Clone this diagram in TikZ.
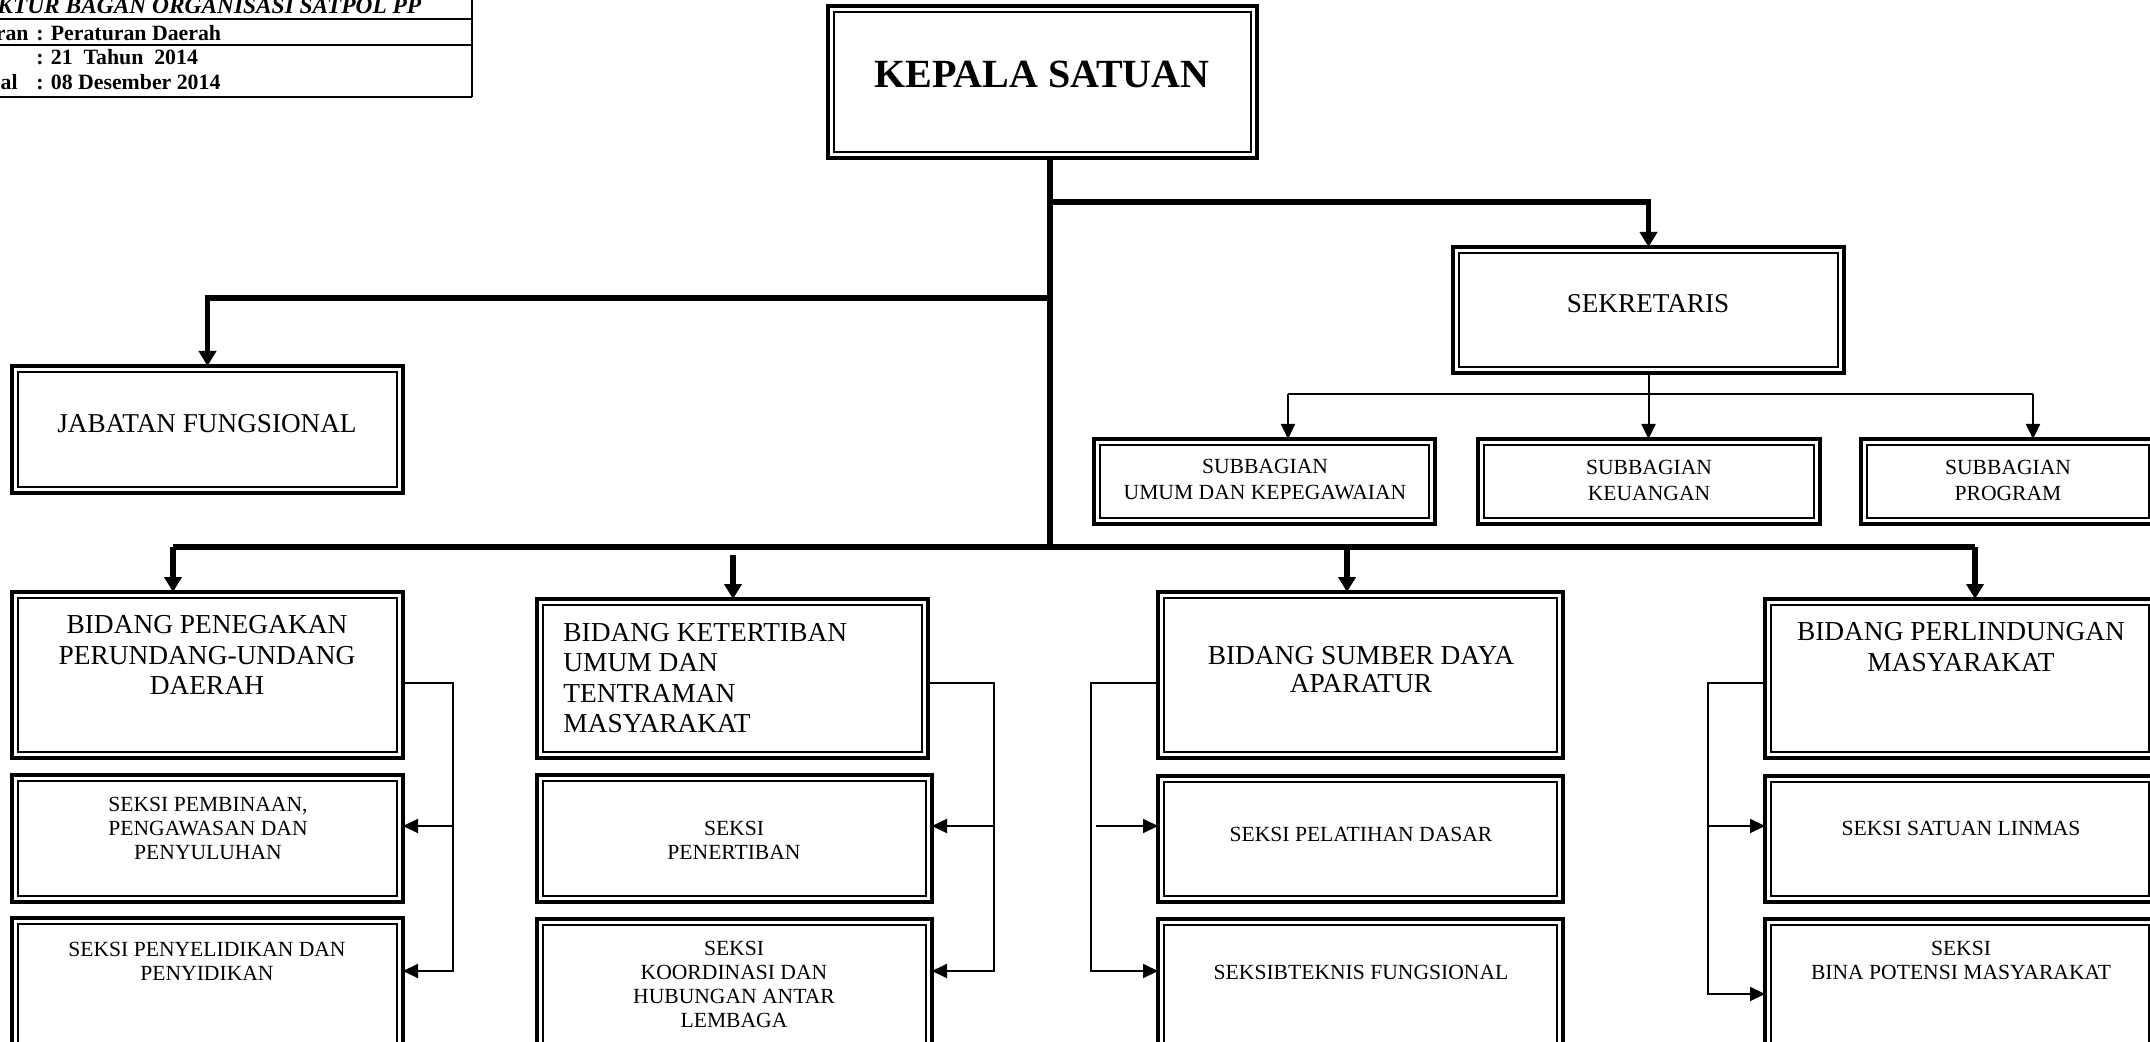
\documentclass[tikz,border=0pt]{standalone}
\usepackage{fontspec}
\setmainfont{Liberation Serif}
\usetikzlibrary{arrows.meta,calc}
\begin{document}
\begin{tikzpicture}[x=0.5pt,y=-0.5pt,
  dbox/.style={draw, line width=1.6pt, anchor=north west, inner sep=0pt, outer sep=0pt,
    path picture={\draw[line width=1.1pt]
      ([shift={(3.1pt,-3.1pt)}]path picture bounding box.north west) rectangle
      ([shift={(-3.1pt,3.1pt)}]path picture bounding box.south east);}},
  sz/.style 2 args={minimum width=#1*0.5pt, minimum height=#2*0.5pt},
  txt/.style={inner sep=0pt, align=center},
  fk/.style={font=\fontsize{20}{24}\selectfont\bfseries},
  fj/.style={font=\fontsize{13.6}{16}\selectfont},
  fb/.style={font=\fontsize{13.7}{15.2}\selectfont},
  fs/.style={font=\fontsize{10.8}{12}\selectfont},
  fsub/.style={font=\fontsize{10.8}{13}\selectfont},
  ftab/.style={font=\fontsize{10.9}{13}\selectfont\bfseries, inner sep=0pt, anchor=base west},
  ftitle/.style={font=\fontsize{11.7}{14}\selectfont\bfseries\itshape, inner sep=0pt, anchor=base west},
  thk/.style={line width=2.6pt},
  thkarrow/.style={line width=2.6pt, -{Triangle[width=8.5pt,length=7.5pt]}},
  thn/.style={line width=1pt},
  thnarrow/.style={line width=1pt, -{Triangle[width=7pt,length=7.5pt]}},
  tabline/.style={line width=1.2pt}
]
\useasboundingbox (0,0) rectangle (2150,1042);
\clip (0,0) rectangle (2150,1042);

% ---------- table (top left) ----------
\draw[tabline] (-10,19) -- (472,19);
\draw[tabline] (-10,45) -- (472,45);
\draw[tabline] (-10,97) -- (472,97);
\draw[tabline] (472,-10) -- (472,97);
\node[ftitle] (tt) at (-3,14) {KTUR BAGAN ORGANISASI SATPOL PP};
\node[ftab, anchor=base east] (t1a) at (29,41) {ran};
\node[ftab] (t1b) at (36,41) {: Peraturan Daerah};
\node[ftab] (t2b) at (36,65) {: 21\ \ Tahun\ \ 2014};
\node[ftab, anchor=base east] (t3a) at (18,90) {al};
\node[ftab] (t3b) at (36,90) {: 08 Desember 2014};

% ---------- boxes ----------
\node[dbox, sz={429}{152}] (kepala) at (828,6) {};
\node[dbox, sz={391}{127}] (jabatan) at (12,366) {};
\node[dbox, sz={391}{126}] (sekretaris) at (1453,247) {};
\node[dbox, sz={341}{85}] (sub1) at (1094,439) {};
\node[dbox, sz={342}{85}] (sub2) at (1478,439) {};
\node[dbox, sz={294}{85}] (sub3) at (1861,439) {};

\node[dbox, sz={391}{166}] (bid1) at (12,592) {};
\node[dbox, sz={391}{127}] (s11) at (12,775) {};
\node[dbox, sz={391}{150}] (s12) at (12,918) {};

\node[dbox, sz={391}{159}] (bid2) at (537,599) {};
\node[dbox, sz={395}{127}] (s21) at (537,775) {};
\node[dbox, sz={395}{150}] (s22) at (537,919) {};

\node[dbox, sz={405}{166}] (bid3) at (1158,592) {};
\node[dbox, sz={405}{126}] (s31) at (1158,776) {};
\node[dbox, sz={405}{150}] (s32) at (1158,919) {};

\node[dbox, sz={390}{159}] (bid4) at (1765,599) {};
\node[dbox, sz={390}{126}] (s41) at (1765,776) {};
\node[dbox, sz={390}{150}] (s42) at (1765,919) {};

% ---------- texts ----------
\node[txt, fk] (kepala-t) at (1042,74) {KEPALA SATUAN};
\node[txt, fj] (jabatan-t) at (207,424) {JABATAN FUNGSIONAL};
\node[txt, fj] (sekretaris-t) at (1648,304) {SEKRETARIS};
\node[txt, fsub] (sub1-t) at (1265,480) {SUBBAGIAN\\UMUM DAN KEPEGAWAIAN};
\node[txt, fsub] (sub2-t) at (1649,480) {SUBBAGIAN\\KEUANGAN};
\node[txt, fsub] (sub3-t) at (2008,480) {SUBBAGIAN\\PROGRAM};

\node[txt, fb] (bid1-t) at (207,655) {BIDANG PENEGAKAN\\PERUNDANG-UNDANG\\DAERAH};
\node[txt, fb, align=left, anchor=west] (bid2-t) at (563,678) {BIDANG KETERTIBAN\\UMUM DAN\\TENTRAMAN\\MASYARAKAT};
\node[txt, fb, font=\fontsize{13.7}{14}\selectfont] (bid3-t) at (1361,670) {BIDANG SUMBER DAYA\\APARATUR};
\node[txt, fb] (bid4-t) at (1961,647) {BIDANG PERLINDUNGAN\\MASYARAKAT};

\node[txt, fs] (s11-t) at (208,828) {SEKSI PEMBINAAN,\\PENGAWASAN DAN\\PENYULUHAN};
\node[txt, fs] (s12-t) at (207,961) {SEKSI PENYELIDIKAN DAN\\PENYIDIKAN};
\node[txt, fs] (s21-t) at (734,840) {SEKSI\\PENERTIBAN};
\node[txt, fs] (s22-t) at (734,984) {SEKSI\\KOORDINASI DAN\\HUBUNGAN ANTAR\\LEMBAGA};
\node[txt, fs] (s31-t) at (1361,834) {SEKSI PELATIHAN DASAR};
\node[txt, fs] (s32-t) at (1361,972) {SEKSIBTEKNIS FUNGSIONAL};
\node[txt, fs] (s41-t) at (1961,828) {SEKSI SATUAN LINMAS};
\node[txt, fs] (s42-t) at (1961,960) {SEKSI\\BINA POTENSI MASYARAKAT};

% ---------- thick connectors ----------
\coordinate (trunk) at (1050,547);
\coordinate (j1) at (1050,202);
\coordinate (j2) at (1050,298);
\coordinate (hubL) at (173,547);
\coordinate (hubR) at (1975,547);
\coordinate (h2) at (733,555);
\coordinate (h3) at (1347,547);

\draw[thk] (kepala.south -| trunk) -- (trunk);
\draw[thkarrow] (j1) -| (sekretaris.north);
\draw[thkarrow] (j2) -| (jabatan.north);
\draw[thk] (hubL) -- (hubR);
\draw[thkarrow] (hubL) -- (hubL |- bid1.north);
\draw[thkarrow] (h2) -- (h2 |- bid2.north);
\draw[thkarrow] (h3) -- (h3 |- bid3.north);
\draw[thkarrow] (hubR) -- (hubR |- bid4.north);

% ---------- thin connectors: sekretaris ----------
\coordinate (sL) at (1288,394);
\coordinate (sR) at (2033,394);
\draw[thnarrow] (sekretaris.south) -- (sekretaris.south |- sub2.north);
\draw[thn] (sL) -- (sR);
\draw[thnarrow] (sL) -- (sL |- sub1.north);
\draw[thnarrow] (sR) -- (sR |- sub3.north);

% ---------- thin connectors: bidang 1 ----------
\coordinate (r1) at (453,683);
\coordinate (r1m) at (453,826);
\draw[thnarrow] (bid1.east |- r1) -- (r1) |- (s12.east |- 0,971);
\draw[thnarrow] (r1m) -- (s11.east |- r1m);

% ---------- bidang 2 ----------
\coordinate (r2) at (994,683);
\coordinate (r2m) at (994,826);
\draw[thnarrow] (bid2.east |- r2) -- (r2) |- (s22.east |- 0,971);
\draw[thnarrow] (r2m) -- (s21.east |- r2m);

% ---------- bidang 3 ----------
\coordinate (r3) at (1091,683);
\coordinate (r3m) at (1096,826);
\draw[thnarrow] (bid3.west |- r3) -- (r3) |- (s32.west |- 0,971);
\draw[thnarrow] (r3m) -- (s31.west |- r3m);

% ---------- bidang 4 ----------
\coordinate (r4) at (1708,683);
\coordinate (r4m) at (1708,826);
\draw[thnarrow] (bid4.west |- r4) -- (r4) |- (s42.west |- 0,994);
\draw[thnarrow] (r4m) -- (s41.west |- r4m);
\end{tikzpicture}
\end{document}
